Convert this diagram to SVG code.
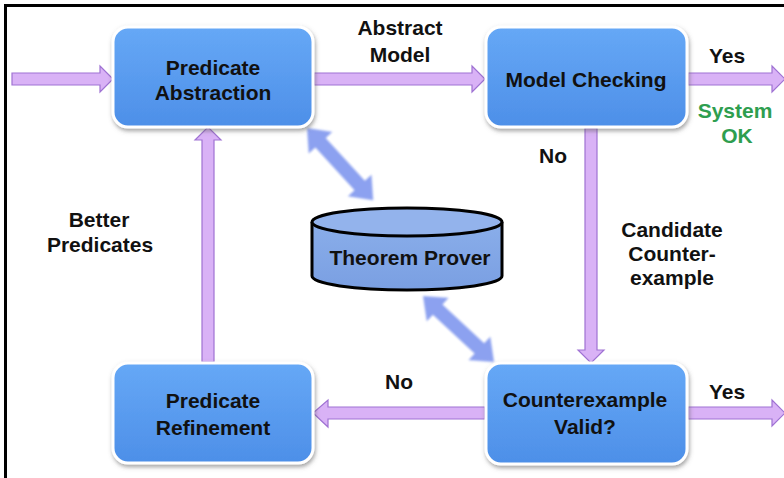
<svg xmlns="http://www.w3.org/2000/svg" width="784" height="478" viewBox="0 0 784 478">
  <defs>
    <linearGradient id="boxFill" x1="0" y1="0" x2="0" y2="1">
      <stop offset="0" stop-color="#66a8f6"/>
      <stop offset="1" stop-color="#4d8fe8"/>
    </linearGradient>
    <linearGradient id="drumFill" x1="0" y1="0" x2="0" y2="1">
      <stop offset="0" stop-color="#8aaeea"/>
      <stop offset="1" stop-color="#7a9fe2"/>
    </linearGradient>
    <filter id="shadow" x="-10%" y="-10%" width="125%" height="130%">
      <feDropShadow dx="1" dy="2.5" stdDeviation="2" flood-color="#555" flood-opacity="0.55"/>
    </filter>
    <filter id="soft" x="-20%" y="-20%" width="140%" height="140%">
      <feGaussianBlur stdDeviation="1.3"/>
    </filter>
  </defs>
  <style>
    .box { fill: url(#boxFill); stroke: #ffffff; stroke-width: 3; filter: url(#shadow); }
    .lbl { font-family: "Liberation Sans", Arial, sans-serif; font-weight: bold; font-size: 21px; fill: #111; text-anchor: middle; }
    .ok { fill: #2e9e4f; }
    .flow { fill: #d9b2f6; stroke: #9f72d3; stroke-width: 1.2; stroke-linejoin: miter; }
    .link { fill: #8ca1f0; filter: url(#soft); }
  </style>

  <rect width="784" height="478" fill="#ffffff"/>
  <!-- frame -->
  <path d="M5.5,478 V5.5 H784" fill="none" stroke="#000" stroke-width="3"/>

  <!-- connectors -->
  <g id="connectors">
    <path class="flow" d="M12,73 H100 V66 L113,79 L100,92 V85 H12 Z"/>
    <path class="flow" d="M314,73 H472 V66 L485,79 L472,92 V85 H314 Z"/>
    <path class="flow" d="M688,73 H772 V66 L785,79 L772,92 V85 H688 Z"/>
    <path class="flow" d="M585,128 V350 H578 L591,363 L604,350 H597 V128 Z"/>
    <path class="flow" d="M485,407 H328 V400 L313,413 L328,427 V419 H485 Z"/>
    <path class="flow" d="M688,407 H772 V400 L785,413 L772,426 V419 H688 Z"/>
    <path class="flow" d="M202,362 V140 H195 L208,127 L221,140 H214 V362 Z"/>
    <path class="link" transform="translate(307,128) rotate(47.5)" d="M0,0 L20,-16 L20,-7 L78,-7 L78,-16 L98,0 L78,16 L78,7 L20,7 L20,16 Z"/>
    <path class="link" transform="translate(423,296) rotate(42.9)" d="M0,0 L20,-16 L20,-7 L77,-7 L77,-16 L97,0 L77,16 L77,7 L20,7 L20,16 Z"/>
  </g>

  <!-- connector labels -->
  <g id="edge-labels">
    <text class="lbl" x="400" y="35">Abstract</text>
    <text class="lbl" x="400" y="62">Model</text>
    <text class="lbl" x="727" y="63">Yes</text>
    <text class="lbl ok" x="735" y="118">System</text>
    <text class="lbl ok" x="737" y="143">OK</text>
    <text class="lbl" x="553" y="163">No</text>
    <text class="lbl" x="672" y="237">Candidate</text>
    <text class="lbl" x="672" y="261">Counter-</text>
    <text class="lbl" x="672" y="285">example</text>
    <text class="lbl" x="99" y="227">Better</text>
    <text class="lbl" x="100" y="252">Predicates</text>
    <text class="lbl" x="399" y="389">No</text>
    <text class="lbl" x="727" y="399">Yes</text>
  </g>

  <g id="predicate-abstraction">
    <rect class="box" x="113" y="27" width="200" height="100" rx="15"/>
    <text class="lbl" x="213" y="75">Predicate</text>
    <text class="lbl" x="213" y="100">Abstraction</text>
  </g>

  <g id="model-checking">
    <rect class="box" x="486" y="27" width="201" height="100" rx="15"/>
    <text class="lbl" x="586" y="87">Model Checking</text>
  </g>

  <g id="predicate-refinement">
    <rect class="box" x="113" y="363" width="200" height="100" rx="15"/>
    <text class="lbl" x="213" y="408">Predicate</text>
    <text class="lbl" x="213" y="435">Refinement</text>
  </g>

  <g id="counterexample-valid">
    <rect class="box" x="486" y="363" width="201" height="101" rx="15"/>
    <text class="lbl" x="585" y="407">Counterexample</text>
    <text class="lbl" x="585" y="434">Valid?</text>
  </g>

  <g id="theorem-prover">
    <path d="M312,222 V276 A95,14 0 0 0 502,276 V222" fill="url(#drumFill)" stroke="#000" stroke-width="3"/>
    <ellipse cx="407" cy="222" rx="95" ry="14" fill="#93b3ec" stroke="#000" stroke-width="3"/>
    <text class="lbl" x="410" y="265">Theorem Prover</text>
  </g>
</svg>
